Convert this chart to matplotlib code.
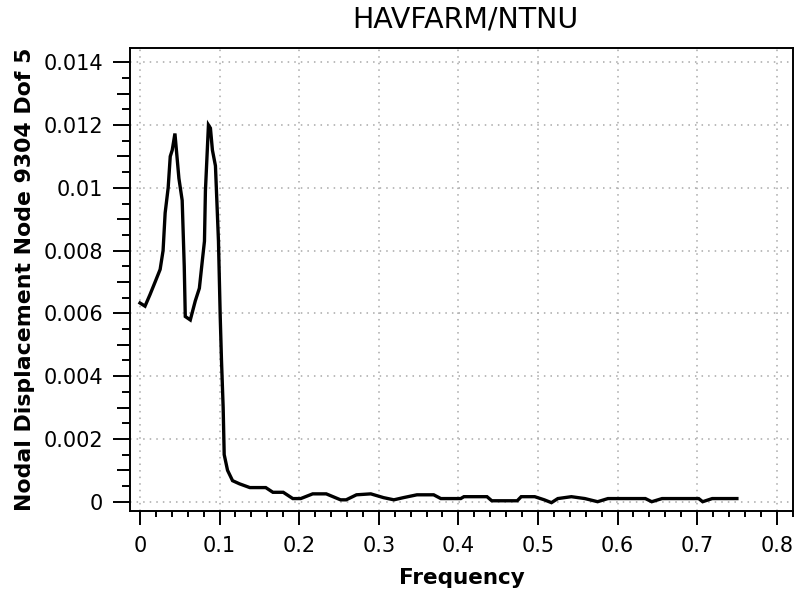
import matplotlib
matplotlib.use("Agg")
import matplotlib.pyplot as plt
from matplotlib.ticker import MultipleLocator, FixedLocator, NullFormatter

frequency = [0.0, 0.0063, 0.0126, 0.019, 0.0253, 0.029, 0.0316, 0.0354, 0.038, 0.0405,
             0.0439, 0.0489, 0.053, 0.0556, 0.0569, 0.0632, 0.0695, 0.0746, 0.0784, 0.081,
             0.0822, 0.086, 0.0885, 0.091, 0.0948, 0.0986, 0.1008, 0.1024, 0.1045, 0.1058,
             0.11, 0.1163, 0.125, 0.138, 0.158, 0.167, 0.18, 0.192, 0.202, 0.217,
             0.234, 0.252, 0.259, 0.272, 0.29, 0.306, 0.319, 0.331, 0.348, 0.369,
             0.378, 0.403, 0.407, 0.436, 0.442, 0.474, 0.479, 0.496, 0.508, 0.517,
             0.525, 0.542, 0.559, 0.575, 0.588, 0.635, 0.643, 0.656, 0.702, 0.707,
             0.719, 0.75]
displacement = [0.00633, 0.00623, 0.0066, 0.0070, 0.0074, 0.0080, 0.0092, 0.0100, 0.0110, 0.0112,
                0.01173, 0.0103, 0.0096, 0.0075, 0.0059, 0.00579, 0.0064, 0.0068, 0.0077, 0.0083,
                0.0099, 0.0120, 0.0119, 0.0112, 0.0107, 0.0083, 0.0059, 0.0045, 0.0030, 0.0015,
                0.0010, 0.00067, 0.00057, 0.00045, 0.00045, 0.0003, 0.0003, 0.0001, 0.0001, 0.00025,
                0.00025, 0.00006, 0.00006, 0.00022, 0.00025, 0.00013, 0.00006, 0.00013, 0.00022, 0.00022,
                0.0001, 0.0001, 0.00016, 0.00016, 0.00003, 0.00003, 0.00016, 0.00016, 0.00006, -0.00003,
                0.0001, 0.00016, 0.0001, 0.0, 0.0001, 0.0001, 0.0, 0.0001, 0.0001, 0.0,
                0.0001, 0.0001]

x_ticks = [0, 0.1, 0.2, 0.3, 0.4, 0.5, 0.6, 0.7, 0.8]
x_tick_labels = ["0", "0.1", "0.2", "0.3", "0.4", "0.5", "0.6", "0.7", "0.8"]
y_ticks = [0, 0.002, 0.004, 0.006, 0.008, 0.01, 0.012, 0.014]
y_tick_labels = ["0", "0.002", "0.004", "0.006", "0.008", "0.01", "0.012", "0.014"]
y_mid_ticks = [0.001, 0.003, 0.005, 0.007, 0.009, 0.011, 0.013]

title = "HAVFARM/NTNU"
x_label = "Frequency"
y_label = "Nodal Displacement Node 9304 Dof 5"

plt.rcParams['font.family'] = ['DejaVu Sans']

W, H = 795, 595
fig = plt.figure(figsize=(W / 100, H / 100), dpi=100)
L, R, T, B = 130, 793, 48, 511
ax = fig.add_axes([L / W, 1 - B / H, (R - L) / W, (B - T) / H])

ax.plot(frequency, displacement, color="black", lw=2.4, solid_joinstyle="miter")

ax.set_xlim(-0.01256, 0.8205)
ax.set_ylim(-0.000296, 0.014454)

ax.set_xticks(x_ticks)
ax.set_xticklabels(x_tick_labels)
ax.set_yticks(y_ticks)
ax.set_yticklabels(y_tick_labels)
ax.xaxis.set_minor_locator(MultipleLocator(0.02))
ax.yaxis.set_minor_locator(MultipleLocator(0.0005))

ax.tick_params(axis="x", which="major", direction="out", length=10, width=1.4,
               labelsize=15, pad=8, color="black")
ax.tick_params(axis="x", which="minor", direction="out", length=4.5, width=1.4)
ax.tick_params(axis="y", which="major", direction="out", length=12.5, width=1.4,
               labelsize=15, pad=7, color="black")
ax.tick_params(axis="y", which="minor", direction="out", length=5.5, width=1.4)

sec = ax.secondary_yaxis("left")
sec.yaxis.set_major_locator(FixedLocator(y_mid_ticks))
sec.yaxis.set_major_formatter(NullFormatter())
sec.tick_params(axis="y", which="major", direction="out", length=9.5, width=1.4)
sec.yaxis.set_minor_locator(FixedLocator([]))
sec.spines["left"].set_visible(False)

ax.grid(True, which="major", color="#a8a8a8", linestyle=(0, (1, 3.3)), lw=1.1)
ax.set_axisbelow(True)

for s in ax.spines.values():
    s.set_linewidth(1.4)
    s.set_color("black")

fig.text(465 / W, 1 - 20 / H, title, ha="center", va="center", fontsize=20.5)
fig.text((L + R) / 2 / W, 1 - 578 / H, x_label, ha="center", va="center",
         fontsize=15.5, fontweight="bold")
fig.text(25 / W, 1 - 279 / H, y_label, ha="center", va="center", rotation=90,
         fontsize=15.8, fontweight="bold")

fig.savefig("out.png", dpi=100)
